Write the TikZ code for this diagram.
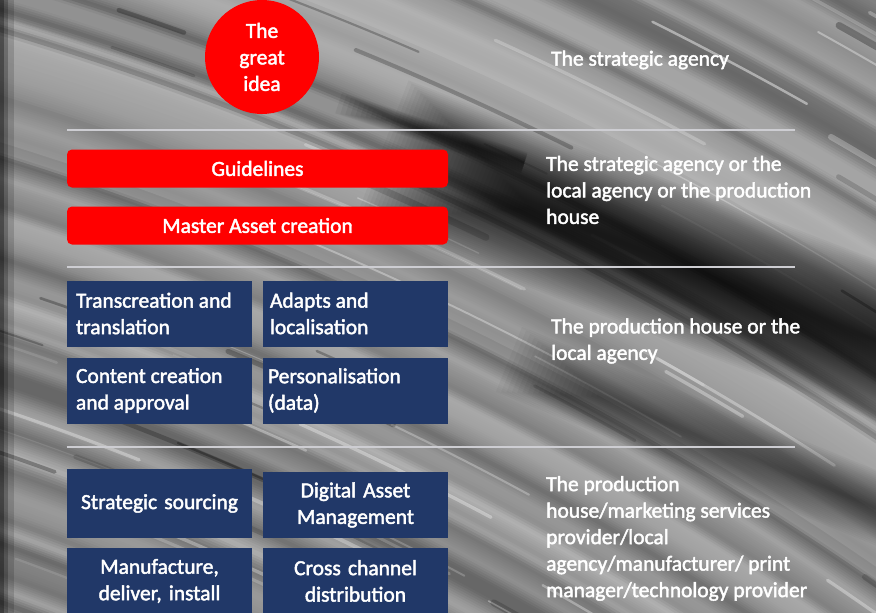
\documentclass[tikz,border=0pt]{standalone}
\usepackage{fontspec}
\setmainfont{Carlito}[FakeBold=2]
\definecolor{navybox}{RGB}{33,56,104}
\definecolor{rulegray}{RGB}{205,205,210}
\begin{document}
\begin{tikzpicture}[x=1pt,y=-1pt,
  every node/.style={font=\fontsize{21.5}{26.5}\selectfont, text=white},
  redbar/.style={draw=none, fill=red, rounded corners=5pt, minimum width=381pt, minimum height=38pt, inner sep=0pt},
  bluebox/.style={draw=none, fill=navybox, minimum width=185pt, minimum height=66pt, inner sep=0pt},
  lefttext/.style={anchor=west, align=left, inner sep=0pt},
  midtext/.style={text width=181pt, align=center, inner sep=0pt},
  rolelabel/.style={anchor=west, align=left, inner sep=0pt},
  sep/.style={draw=rulegray, line width=2.5pt},
  streakline/.style={line cap=round}
]
\useasboundingbox (0,0) rectangle (876,613);
% ---------- background (curved motion-blur streaks) ----------
\begin{scope}
\clip (0,0) rectangle (876,613);
\fill[black!45] (0,0) rectangle (876,613);
\begin{scope}[shift={(-949,3220)}]
\pgfmathsetseed{4242}
\gdef\rprev{2765}\gdef\gprev{0.55}
\foreach \i in {1,...,95}{
  \pgfmathsetmacro{\rnext}{\rprev+5+16*rnd}
  \pgfmathsetmacro{\gnext}{0.40+0.30*rnd}
  \pgfmathtruncatemacro{\nsub}{max(1,(\rnext-\rprev)/2)}
  \foreach \k in {1,...,\nsub}{
    \pgfmathsetmacro{\rmid}{\rprev+(\k-0.5)*(\rnext-\rprev)/\nsub}
    \pgfmathsetmacro{\lw}{(\rnext-\rprev)/\nsub+0.8}
    \pgfmathsetmacro{\gv}{\gprev+(\k-0.5)*(\gnext-\gprev)/\nsub}
    \definecolor{stripc}{gray}{\gv}
    \draw[stripc, line width=\lw pt] (0,0) circle[radius=\rmid];
  }
  \xdef\rprev{\rnext}\xdef\gprev{\gnext}
}
% broad light zones
\draw[white, opacity=0.10, line width=120pt] (0,0) circle[radius=3280];
\draw[white, opacity=0.08, line width=70pt] (0,0) circle[radius=3490];
% short bright and dark streaks
\foreach \i in {1,...,60}{
  \pgfmathsetmacro{\rr}{2780+920*rnd}
  \pgfmathsetmacro{\aa}{-75+21*rnd}
  \pgfmathsetmacro{\ll}{1+4*rnd}
  \pgfmathsetmacro{\ww}{1+3*rnd}
  \pgfmathsetmacro{\oo}{0.10+0.25*rnd}
  \draw[streakline, white, opacity=\oo, line width=\ww pt] (\aa:\rr) arc[start angle=\aa, end angle=\aa+\ll, radius=\rr];
}
\foreach \i in {1,...,35}{
  \pgfmathsetmacro{\rr}{2780+920*rnd}
  \pgfmathsetmacro{\aa}{-75+21*rnd}
  \pgfmathsetmacro{\ll}{1+3*rnd}
  \pgfmathsetmacro{\ww}{2+5*rnd}
  \pgfmathsetmacro{\oo}{0.10+0.2*rnd}
  \draw[streakline, black, opacity=\oo, line width=\ww pt] (\aa:\rr) arc[start angle=\aa, end angle=\aa+\ll, radius=\rr];
}
% distinct bright streaks top right
\draw[streakline, white, opacity=0.45, line width=2.5pt] (-63.4:3577) arc[start angle=-63.4, end angle=-60.6, radius=3577];
\draw[streakline, white, opacity=0.35, line width=2pt] (-61.0:3645) arc[start angle=-61.0, end angle=-59.0, radius=3645];
\draw[streakline, white, opacity=0.25, line width=6pt] (-60.0:3560) arc[start angle=-60.0, end angle=-56.5, radius=3560];
\end{scope}
% main dark sweep (right of the red bars, down to the right edge)
\begin{scope}[shift={(490,192)}, rotate=-21]
\foreach \k in {1,...,40}{
  \pgfmathsetmacro{\us}{-120+4*\k}
  \pgfmathsetmacro{\w}{150*(1-(\k-1)/40)}
  \draw[black, opacity=0.036, line width=\w pt] (\us,0) -- (650,0);
}
\end{scope}
% weaker dark sweep below it
\begin{scope}[shift={(560,380)}, rotate=-22]
\foreach \k in {1,...,20}{
  \pgfmathsetmacro{\us}{-60+5*\k}
  \pgfmathsetmacro{\w}{70*(1-(\k-1)/20)}
  \draw[black, opacity=0.03, line width=\w pt] (\us,0) -- (500,0);
}
\end{scope}
% thin dark streak above the first rule
\begin{scope}[shift={(410,126)}, rotate=-18]
\foreach \k in {1,...,12}{
  \pgfmathsetmacro{\us}{-80+5*\k}
  \pgfmathsetmacro{\w}{22*(1-(\k-1)/12)}
  \draw[black, opacity=0.05, line width=\w pt] (\us,0) -- (120,0);
}
\end{scope}
% dark left edge
\fill[black, opacity=0.55] (0,0) rectangle (4,613);
\fill[black, opacity=0.35] (4,0) rectangle (8,613);
\fill[black, opacity=0.15] (8,0) rectangle (14,613);
\end{scope}
% ---------- separators ----------
\coordinate (s1a) at (67,130); \coordinate (s1b) at (795,130);
\coordinate (s2a) at (67,267); \coordinate (s2b) at (795,267);
\coordinate (s3a) at (67,447); \coordinate (s3b) at (795,447);
\draw[sep] (s1a) -- (s1b);
\draw[sep] (s2a) -- (s2b);
\draw[sep] (s3a) -- (s3b);
% ---------- tier 1 ----------
\node[circle, fill=red, minimum size=114pt, inner sep=0pt, align=center] (idea) at (262,57) {The\\great\\idea};
\node[rolelabel] (role1) at (551,60) {The strategic agency};
% ---------- tier 2 ----------
\node[redbar] (guide) at (257.5,168.5) {Guidelines};
\node[redbar] (master) at (257.5,225.5) {Master Asset creation};
\node[rolelabel] (role2) at (546,190) {The strategic agency or the\\local agency or the production\\house};
% ---------- tier 3 ----------
\node[bluebox] (trans) at (159.5,313.5) {};
\node[lefttext] (transt) at ([xshift=9pt]trans.west) {Transcreation and\\translation};
\node[bluebox] (adapt) at (355.5,313.5) {};
\node[lefttext] (adaptt) at ([xshift=7pt]adapt.west) {Adapts and\\localisation};
\node[bluebox] (content) at (159.5,390.5) {};
\node[lefttext] (contentt) at ([xshift=9pt]content.west) {Content creation\\and approval};
\node[bluebox] (perso) at (355.5,390.5) {};
\node[lefttext] (persot) at ([xshift=5pt]perso.west) {Personalisation\\(data)};
\node[rolelabel] (role3) at (551,341) {The production house or the\\local agency};
% ---------- tier 4 ----------
\node[bluebox, minimum height=69pt] (source) at (159.5,503.5) {};
\node[midtext] (sourcet) at (source.center) {Strategic sourcing};
\node[bluebox] (dam) at (355.5,505) {};
\node[midtext] (damt) at (dam.center) {Digital Asset\\Management};
\node[bluebox] (manu) at (159.5,581) {};
\node[midtext] (manut) at (manu.center) {Manufacture,\\deliver, install};
\node[bluebox] (cross) at (355.5,581) {};
\node[midtext] (crosst) at (cross.center) {Cross channel\\distribution};
\node[rolelabel] (role4) at (546,538.5) {The production\\house/marketing services\\provider/local\\agency/manufacturer/ print\\manager/technology provider};
\end{tikzpicture}
\end{document}
